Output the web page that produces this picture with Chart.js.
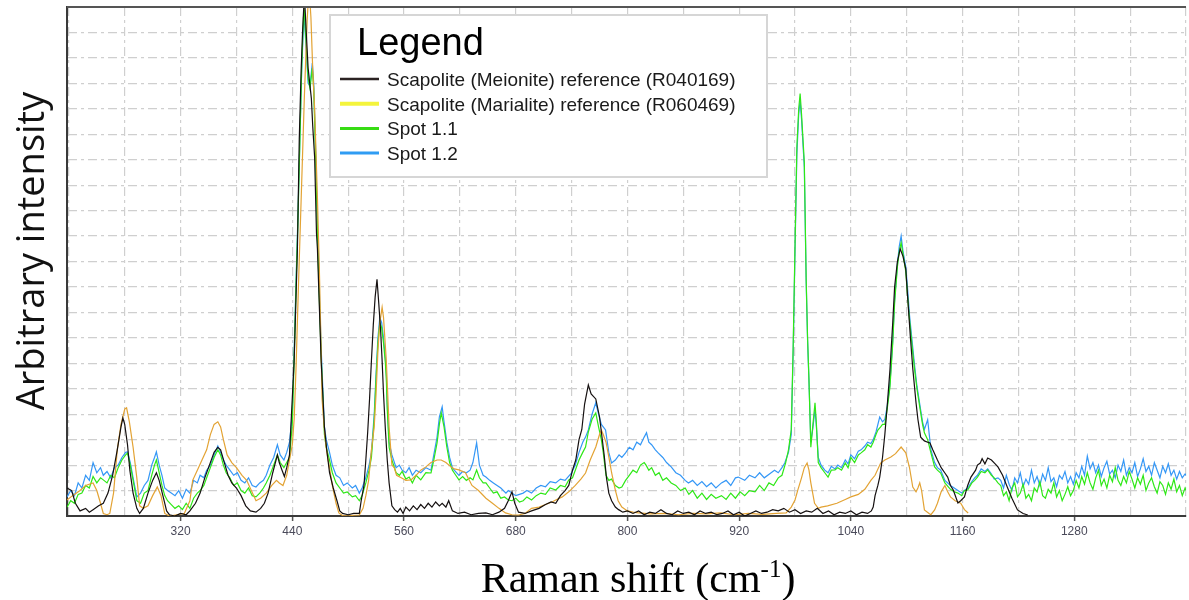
<!DOCTYPE html>
<html>
<head>
<meta charset="utf-8">
<script src="https://cdn.jsdelivr.net/npm/chart.js@4.4.1/dist/chart.umd.min.js"></script>
<style>
html,body{margin:0;padding:0;background:#fff;}
#wrap{width:1189px;height:600px;}
</style>
</head>
<body>
<div id="wrap"><canvas id="c" width="1189" height="600"></canvas></div>
<script>
// ---- data (Raman shift cm-1, arbitrary intensity) ----
const xGridValues = [200,260,320,380,440,500,560,620,680,740,800,860,920,980,1040,1100,1160,1220,1280,1340,1400];
const xTickLabels = [320,440,560,680,800,920,1040,1160,1280];
const seriesLabels = [
  'Scapolite (Meionite) reference (R040169)',
  'Scapolite (Marialite) reference (R060469)',
  'Spot 1.1',
  'Spot 1.2'
];

const meionite = [
[198,1.1],[203,1.0],[207,0.5],[212,0.2],[218,0.3],[222,0.15],[226,0.25],[232,0.4],[237,0.5],[242,0.9],[247,1.6],[252,2.6],[256,3.5],[258,3.85],[260,3.6],[263,2.8],[265.5,1.8],[269,0.9],[273,0.3],[276,0.1],[280,0.3],[285,0.9],[290,1.4],[294,1.7],[297,1.4],[301,0.8],[305,0.2],[308,0.05],[314,0.0],[320,0.1],[326,0.05],[330,0.2],[336,0.5],[341,0.9],[346,1.5],[351,2.0],[356,2.5],[360,2.7],[363,2.6],[367,2.1],[371,1.6],[375,1.3],[380,1.1],[385,0.8],[390,0.4],[395,0.2],[401,0.15],[406,0.3],[410,0.5],[414,0.9],[419,1.7],[424,2.4],[426,2.1],[429,1.8],[431.5,1.55],[434,1.9],[437,2.4],[439,3.9],[442,6.1],[445.5,10.5],[447.5,14.8],[449.5,17.5],[451,19.0],[453,20.5],[455,19.0],[457,17.6],[460.5,16.4],[462,15.3],[464,14.1],[466,11.1],[467,10.5],[469,8.3],[471,6.1],[474.5,3.5],[477,2.6],[480,1.7],[484,1.1],[488,0.6],[491,0.2],[494,0.1],[500,0.05],[506,0.1],[512,0.1],[514,0.6],[517,1.2],[519,2.2],[521,3.3],[523,4.6],[525,6.1],[527,7.5],[529,8.6],[531,9.3],[533,8.3],[535,7.2],[536.5,6.1],[538,4.8],[540,3.4],[542,2.2],[544,1.3],[547,0.4],[550,0.25],[553,0.15],[556,0.3],[559,0.1],[562,0.35],[566,0.2],[570,0.4],[574,0.25],[578,0.45],[582,0.3],[586,0.5],[590,0.35],[594,0.55],[598,0.4],[601,0.5],[605,0.35],[608,0.6],[612,0.2],[618,0.1],[625,0.15],[632,0.05],[640,0.1],[648,0.12],[655,0.05],[662,0.15],[668,0.3],[672,0.6],[676,0.95],[679,0.5],[683,0.15],[690,0.1],[697,0.2],[705,0.3],[712,0.45],[718,0.55],[723,0.5],[728,0.8],[733,1.0],[737,1.2],[741,1.8],[744.5,2.2],[748,3.0],[751,3.4],[754,4.4],[758,5.15],[761,4.8],[766,4.6],[770,3.9],[772,3.3],[775,2.4],[777.5,1.5],[780,0.9],[783,0.6],[787,0.35],[790.5,0.25],[795,0.15],[800,0.2],[806,0.1],[812,0.2],[818,0.05],[824,0.15],[830,0.1],[836,0.25],[842,0.1],[848,0.05],[854,0.2],[860,0.1],[866,0.15],[872,0.05],[878,0.2],[884,0.1],[890,0.15],[896,0.05],[902,0.1],[908,0.2],[914,0.05],[920,0.15],[926,0.0],[932,0.1],[938,0.2],[944,0.1],[950,0.15],[956,0.25],[962,0.2],[968,0.3],[974,0.15],[980,0.25],[986,0.1],[992,0.2],[998,0.15],[1004,0.3],[1010,0.1],[1016,0.2],[1022,0.05],[1028,0.15],[1034,0.1],[1040,0.2],[1046,0.05],[1052,0.15],[1058,0.1],[1062,0.2],[1064,0.35],[1066,0.8],[1069,1.2],[1071,1.53],[1074,2.3],[1076.5,3.2],[1079,4.3],[1082,5.74],[1085,7.6],[1087,9.0],[1090,10.0],[1093,10.5],[1096,10.2],[1099,9.7],[1101,8.6],[1104,7.0],[1106.5,5.8],[1110,4.45],[1112,3.8],[1115,3.1],[1119,2.95],[1122.5,2.9],[1125,2.87],[1128,2.6],[1133,2.2],[1137,1.9],[1141,1.69],[1144,1.53],[1147,1.2],[1150,1.02],[1155,0.51],[1158,0.6],[1162,0.75],[1165.5,1.2],[1169,1.53],[1174,1.8],[1176,2.0],[1179,2.08],[1181,2.25],[1184,2.05],[1187,2.28],[1191,2.2],[1195,2.05],[1198,1.93],[1203,1.6],[1208,1.14],[1213,0.7],[1219,0.24],[1225,0.1],[1230,0.04]
];

const marialite = [
[198,0.63],[204,0.8],[212,1.0],[218,1.2],[226,1.3],[230,1.0],[234,0.5],[237,0.1],[241,0.05],[244,0.1],[248,0.9],[252,2.6],[256,3.6],[260,4.2],[262,4.25],[265,3.7],[269,2.7],[273,1.5],[276,0.4],[280,0.3],[285,0.4],[290,0.8],[295,1.14],[299,0.8],[303,0.1],[308,0.0],[316,0.05],[324,0.1],[330,0.6],[333,1.4],[338,1.8],[343,2.2],[348,2.6],[352,3.2],[356,3.6],[360,3.7],[363,3.5],[366,3.0],[370,2.4],[375,2.1],[380,1.9],[386,1.6],[391,1.4],[396,1.0],[401,0.6],[406,0.7],[412,0.9],[418,1.2],[423,1.4],[426,1.3],[430,1.2],[434,1.6],[437,2.2],[440,2.8],[442,3.8],[444,5.8],[447,9.5],[450,13.0],[453,16.5],[456,19.5],[458,20.8],[460,19.6],[462,17.5],[464,16.0],[467,12.5],[469,9.8],[471,6.5],[472,4.6],[474,3.6],[476,2.8],[478,2.3],[480,1.9],[483,1.2],[487,0.5],[490,0.12],[494,0.02],[500,0.0],[506,0.03],[512,0.04],[516,0.3],[519,0.8],[522,1.4],[525,2.6],[528,3.5],[530,4.8],[532,6.5],[534,7.6],[536.5,8.2],[538,7.8],[541,6.1],[544,3.5],[547,2.0],[549.5,1.9],[552,1.6],[557,1.5],[562,1.4],[567.5,1.42],[573,1.6],[578,1.8],[583.5,1.93],[589,2.1],[595.5,2.2],[600,2.2],[605,2.1],[610.5,1.93],[614,1.85],[619,1.81],[626,1.7],[633,1.2],[640,1.0],[648,0.7],[655,0.5],[662,0.3],[669,0.12],[676,0.05],[683,0.04],[690,0.1],[697,0.3],[705,0.35],[712,0.45],[719,0.55],[723,0.63],[730,0.75],[737,0.95],[744,1.2],[750,1.45],[755,1.69],[760,2.2],[766,2.71],[770,3.2],[772,3.38],[774,3.2],[777,2.9],[780,2.32],[783,1.7],[787,1.02],[790,0.6],[794,0.35],[800,0.2],[806,0.15],[812,0.12],[825,0.08],[840,0.1],[855,0.05],[870,0.1],[885,0.08],[900,0.12],[915,0.05],[930,0.1],[945,0.06],[960,0.1],[970.5,0.12],[976,0.35],[980,0.63],[983,1.02],[987,1.5],[990,1.9],[993,2.08],[995,1.8],[997,1.3],[999,0.9],[1001,0.5],[1005,0.3],[1008,0.35],[1015,0.4],[1025,0.5],[1034,0.65],[1040,0.75],[1048,0.85],[1055,1.05],[1061.5,1.4],[1066,1.6],[1072,2.08],[1076.5,2.2],[1083,2.32],[1088,2.45],[1094,2.71],[1099,2.48],[1103,1.9],[1106.5,1.14],[1110,0.95],[1112,1.1],[1114,1.3],[1116,1.0],[1119,0.24],[1124,0.1],[1126,0.05],[1130,0.24],[1133,0.5],[1137,0.95],[1141,1.2],[1144,0.95],[1147,0.75],[1152,0.6],[1158,0.5],[1162,0.25],[1166,0.12]
];

const spot11 = [
[198,0.35],[202,0.6],[206,0.5],[210,0.85],[214,0.9],[218,1.2],[222,1.1],[226,1.55],[230,1.3],[234,1.5],[237,1.42],[241,1.3],[245,1.6],[249,1.5],[253,1.9],[257,2.2],[261,2.4],[263,2.47],[266,2.0],[269,1.4],[273,0.6],[277,0.5],[281,0.9],[285,1.0],[289,1.6],[292,2.0],[294,2.2],[297,1.7],[300,1.2],[303,0.8],[306,0.6],[310,0.45],[314,0.3],[318,0.4],[322,0.25],[326,0.5],[330,0.3],[334,0.7],[338,0.9],[341,1.0],[345,1.2],[348,1.5],[352,1.9],[356,2.3],[360,2.6],[363,2.4],[366,2.0],[369,1.7],[373,1.5],[377,1.2],[381,1.3],[385,1.0],[389,0.9],[393,1.1],[397,0.8],[401,0.75],[405,0.9],[409,1.1],[412,1.3],[416,1.6],[420,2.0],[424,2.4],[427,2.1],[431,1.9],[434,2.1],[437,2.3],[440,3.6],[442,6.2],[444,9.0],[446,11.5],[448,14.5],[450,17.5],[452,19.6],[453,19.8],[455,18.5],[457,17.2],[459,16.8],[461.5,17.6],[463,16.8],[465,14.2],[467,11.2],[469,8.6],[471,6.3],[474.5,3.2],[476.5,2.7],[480,2.2],[483,1.7],[487,1.3],[491,1.1],[495,0.9],[499,0.95],[504.5,0.75],[508,0.8],[512,0.6],[515,0.8],[519,1.3],[522.5,1.8],[525,2.3],[528,3.8],[530,5.4],[532,6.8],[534,7.6],[536,7.4],[538,6.8],[540,6.0],[541,5.4],[542,4.2],[544,2.7],[547,2.2],[551.5,1.7],[555,1.6],[558,1.75],[562,1.45],[565.5,1.53],[569,1.3],[573,1.6],[578,1.42],[583.5,1.7],[589,1.69],[592,2.2],[595.5,2.87],[598,3.6],[600,4.05],[603,3.5],[606,2.71],[609,2.1],[612,1.8],[614,1.69],[619,1.42],[623,1.55],[627,1.4],[631,1.5],[634,1.42],[638,1.81],[641,1.5],[645,1.3],[648,1.3],[652,1.1],[656,0.9],[660,0.95],[664,0.7],[668,0.75],[672,0.63],[676,0.6],[680,0.7],[684,0.55],[688,0.6],[692,0.75],[697,0.63],[702,0.8],[707,0.9],[712,0.85],[717,1.1],[723,1.02],[728,1.2],[733,1.15],[737,1.42],[741,1.5],[744,1.8],[748,2.2],[752,2.5],[755,2.71],[758,3.3],[762,3.8],[766,4.05],[769,3.5],[772,2.99],[774,2.5],[777,1.6],[780,1.4],[783,1.45],[787,1.2],[791,1.1],[794,1.14],[798,1.4],[802,1.6],[806,1.8],[810,1.7],[814,2.0],[818,2.1],[820,2.0],[823,1.8],[826,1.9],[830,1.6],[834,1.7],[838,1.4],[842,1.5],[847,1.3],[852,1.2],[857,1.0],[862,1.1],[866,0.85],[870,1.0],[875,0.7],[880,0.9],[885,0.65],[890,0.85],[895,0.7],[901,0.8],[906,0.65],[911,0.9],[916,0.7],[921,0.95],[926,0.8],[931,1.0],[937,0.95],[942,1.2],[947,1.0],[952,1.3],[957,1.2],[962,1.5],[966,1.6],[970,2.1],[973,2.6],[976,3.4],[978,6.6],[980,10.6],[982,14.5],[984,16.0],[985.5,16.6],[987,15.8],[990,13.9],[992,9.3],[993.5,7.0],[995,5.35],[997,2.7],[999,3.5],[1001.5,4.45],[1003,3.6],[1005,2.1],[1008,1.9],[1012,1.7],[1015.5,1.53],[1019,1.8],[1023,1.81],[1026,1.9],[1030,1.8],[1034,2.08],[1037,1.9],[1040,2.3],[1044,2.1],[1048,2.4],[1051,2.48],[1055,2.6],[1058,2.8],[1061.5,2.71],[1064,2.9],[1067,3.2],[1069,3.38],[1072,3.5],[1074,3.6],[1076.5,3.6],[1079,4.2],[1082,5.07],[1085,6.8],[1087,8.38],[1090,9.8],[1092,10.4],[1094,10.74],[1096,10.3],[1099,9.6],[1101,8.6],[1103,7.71],[1106,6.6],[1108.5,5.74],[1111,5.0],[1114,4.29],[1117,3.6],[1119,3.27],[1122.5,3.0],[1126,2.48],[1130,1.93],[1133,1.8],[1136.5,1.69],[1141,1.3],[1147,1.05],[1151,0.95],[1155,0.9],[1159,0.8],[1162,1.0],[1165.5,1.02],[1170,1.3],[1173,1.4],[1176,1.53],[1180,1.75],[1184,1.7],[1187,1.81],[1191,1.6],[1194,1.5],[1198,1.3],
[1201,1.2],[1204,0.8],[1207,0.95],[1210,0.6],[1213,1.1],[1216,1.3],[1219,0.75],[1222,0.9],[1225,1.25],[1228,0.7],[1231,0.85],[1234,0.6],[1237,1.1],[1240,0.95],[1243,1.35],[1246,0.8],[1249,0.7],[1252,1.05],[1255,0.9],[1258,1.3],[1261,0.75],[1264,1.0],[1267,0.6],[1270,0.85],[1273,1.15],[1276,0.8],[1279,1.0],[1282,1.4],[1285,1.1],[1288,1.55],[1291,1.25],[1294,1.7],[1297,1.3],[1300,1.05],[1303,1.5],[1306,1.8],[1309,1.2],[1312,1.45],[1315,1.1],[1318,1.6],[1321,1.35],[1324,1.9],[1327,1.4],[1330,1.2],[1333,1.55],[1336,1.3],[1339,1.75],[1342,1.45],[1345,1.1],[1348,1.5],[1351,1.25],[1354,1.6],[1357,1.0],[1360,1.3],[1363,1.5],[1366,1.15],[1369,0.9],[1372,1.35],[1375,1.2],[1378,0.85],[1381,1.3],[1384,1.05],[1387,1.45],[1390,0.95],[1393,1.2],[1396,0.8],[1399,1.1],[1400,1.0]
];

const spot12 = [
[198,0.75],[202,1.0],[206,0.8],[210,1.3],[214,1.1],[218,1.6],[222,1.4],[226,2.1],[230,1.7],[234,1.9],[237,1.6],[241,1.75],[245,1.5],[249,1.9],[253,2.0],[257,2.3],[261,2.5],[263,2.52],[266,2.1],[269,1.5],[273,0.75],[277,0.9],[281,1.2],[285,1.4],[289,2.0],[292,2.3],[294,2.52],[297,2.0],[300,1.6],[303,1.1],[306,1.0],[310,0.9],[314,0.8],[318,1.0],[322,0.7],[326,1.05],[330,0.9],[334,1.4],[338,1.3],[341,1.6],[345,1.5],[348,1.8],[352,2.0],[356,2.4],[360,2.75],[363,2.5],[366,2.2],[369,2.0],[373,1.8],[377,1.6],[381,1.7],[385,1.4],[389,1.3],[393,1.5],[397,1.2],[401,1.14],[405,1.3],[409,1.4],[412,1.6],[416,2.0],[420,2.3],[424,2.8],[427,2.4],[431,2.2],[434,2.5],[437,2.9],[440,4.0],[442,6.5],[444,9.2],[446,11.7],[448,14.6],[450,17.4],[452,19.3],[453,19.5],[455,18.3],[457,17.0],[459,16.9],[461.5,17.8],[463,17.0],[465,14.5],[467,11.5],[469,8.9],[471,6.6],[474.5,3.5],[476.5,3.0],[480,2.5],[483,2.0],[487,1.6],[491,1.5],[495,1.2],[499,1.3],[504.5,1.1],[508,1.2],[512,0.9],[515,1.1],[519,1.5],[522.5,2.0],[525,2.5],[528,4.0],[530,5.6],[532,7.0],[534,7.8],[536,7.6],[538,7.0],[540,6.2],[541,5.6],[542,4.4],[544,2.9],[547,2.4],[551.5,1.9],[555,2.0],[558,1.8],[562,1.7],[565.5,1.9],[569,1.6],[573,1.8],[578,1.7],[583.5,1.9],[589,1.8],[592,2.4],[595.5,3.1],[598,3.9],[601,4.29],[603,3.7],[606,2.9],[609,2.3],[612,1.9],[614,1.8],[619,1.6],[623,1.75],[627,1.7],[631,1.8],[634,2.1],[638,2.87],[641,2.0],[645,1.6],[648,1.53],[652,1.4],[656,1.3],[660,1.2],[664,1.1],[669.5,0.9],[672,1.0],[676,0.9],[680,0.8],[684,0.85],[688,0.9],[692,1.0],[697,0.9],[702,1.1],[707,1.2],[712,1.15],[717,1.35],[723,1.3],[728,1.45],[733,1.4],[740,1.69],[744,2.0],[748,2.5],[752,2.9],[755,3.1],[758,3.38],[762,4.0],[766,4.45],[769,4.0],[772,3.6],[776.5,3.38],[780,2.5],[783,2.08],[787,2.2],[791,2.4],[794,2.3],[798,2.48],[802,2.7],[806,2.6],[810,2.9],[814,2.8],[818,3.1],[820.5,3.27],[823,2.9],[826,2.8],[830,2.6],[833,2.48],[838,2.3],[842,2.1],[847,1.93],[852,1.7],[857,1.6],[862,1.4],[865.5,1.3],[870,1.4],[875,1.2],[880,1.35],[885,1.15],[890,1.3],[895,1.1],[901,1.3],[906,1.4],[911,1.2],[916,1.5],[919,1.53],[926,1.4],[931,1.6],[937,1.5],[942,1.7],[947,1.5],[954,1.69],[958,1.8],[962,1.7],[966,1.9],[969,2.08],[973,2.5],[976,3.2],[978,6.4],[980,10.4],[982,14.2],[984,15.8],[985.5,16.3],[987,15.6],[990,13.7],[992,9.2],[993.5,6.9],[995,5.3],[997,2.9],[999,3.4],[1001.5,4.2],[1003,3.5],[1005,2.3],[1008,2.0],[1012,1.8],[1015.5,1.7],[1019,1.95],[1023,1.85],[1026,2.0],[1030,1.9],[1034,2.2],[1037,2.05],[1040,2.4],[1044,2.25],[1048,2.55],[1051,2.6],[1055,2.75],[1058,2.9],[1061.5,2.85],[1064,3.0],[1067,3.3],[1071,3.89],[1074,3.7],[1076.5,3.8],[1079,4.3],[1082,5.2],[1085,6.9],[1087,8.5],[1090,9.9],[1092,10.6],[1094,11.0],[1096,10.4],[1099,9.8],[1101,8.9],[1103,7.9],[1106,6.8],[1108.5,5.9],[1111,5.1],[1114,4.4],[1117,3.7],[1119,3.4],[1122.5,3.78],[1126,2.6],[1130,2.1],[1133,1.9],[1136.5,1.8],[1141,1.4],[1147,1.2],[1151,1.1],[1155,1.0],[1159,0.9],[1162,1.0],[1165.5,1.1],[1170,1.35],[1173,1.5],[1176,1.6],[1180,1.85],[1184,1.75],[1187,1.85],[1191,1.65],[1194,1.45],[1198,1.5],
[1201,1.4],[1204,1.1],[1207,1.6],[1210,1.25],[1213,1.0],[1216,1.5],[1219,1.3],[1222,1.7],[1225,1.15],[1228,1.45],[1231,1.25],[1234,1.8],[1237,1.3],[1240,1.55],[1243,1.2],[1246,1.65],[1249,1.4],[1252,1.9],[1255,1.35],[1258,1.5],[1261,1.15],[1264,1.6],[1267,1.45],[1270,1.75],[1273,1.3],[1276,1.55],[1279,1.25],[1282,1.7],[1285,1.5],[1288,1.95],[1291,1.6],[1294,2.35],[1297,1.85],[1300,2.1],[1303,1.7],[1306,2.0],[1309,1.55],[1312,1.9],[1315,2.15],[1318,1.65],[1321,1.8],[1324,1.5],[1327,2.0],[1330,1.75],[1333,2.2],[1336,1.6],[1339,1.9],[1342,1.7],[1345,2.1],[1348,1.55],[1351,1.85],[1354,2.25],[1357,1.75],[1360,1.95],[1363,1.6],[1366,2.1],[1369,1.8],[1372,1.5],[1375,1.95],[1378,1.7],[1381,2.05],[1384,1.6],[1387,1.8],[1390,1.45],[1393,1.75],[1396,1.5],[1399,1.65],[1400,1.6]
];

// ---- chart ----
const toXY = arr => arr.map(p => ({x: p[0], y: p[1]}));
const lineColors = ['#151010', '#e3a334', '#2ee816', '#3497f6'];
const legendColors = ['#2b2222', '#f4f43c', '#37dc14', '#2f9cf3'];
const legendWidths = [2.5, 4, 3, 3];
const seriesData = [meionite, marialite, spot11, spot12];

const gridDash = [9, 4, 3, 4];

const decor = {
  id: 'decor',
  afterDatasetsDraw(chart) {
    const {ctx, chartArea: a} = chart;
    ctx.save();
    ctx.strokeStyle = '#555';
    ctx.lineWidth = 2;
    ctx.beginPath();
    ctx.moveTo(a.left, a.top);
    ctx.lineTo(a.right, a.top);
    ctx.stroke();
    ctx.restore();
  },
  afterDraw(chart) {
    const {ctx} = chart;
    ctx.save();
    // legend box
    ctx.fillStyle = '#ffffff';
    ctx.fillRect(330, 15, 437, 162);
    ctx.strokeStyle = '#d6d6d6';
    ctx.lineWidth = 2;
    ctx.strokeRect(330, 15, 437, 162);
    ctx.fillStyle = '#000';
    ctx.textBaseline = 'alphabetic';
    ctx.textAlign = 'left';
    ctx.font = '38px "Liberation Sans", Arial, sans-serif';
    ctx.fillText('Legend', 357, 55);
    chart.data.datasets.forEach((ds, i) => {
      const y = 79 + i * 24.7;
      ctx.strokeStyle = ds.legendColor;
      ctx.lineWidth = ds.legendWidth;
      ctx.beginPath();
      ctx.moveTo(340, y);
      ctx.lineTo(379, y);
      ctx.stroke();
      ctx.fillStyle = '#1a1a1a';
      ctx.font = '19px "Liberation Sans", Arial, sans-serif';
      ctx.fillText(ds.label, 387, y + 7);
    });
    // y axis title
    ctx.save();
    ctx.translate(44, 251);
    ctx.rotate(-Math.PI / 2);
    ctx.textAlign = 'center';
    ctx.fillStyle = '#111';
    ctx.font = '38px "Open Sans", sans-serif';
    ctx.fillText('Arbitrary intensity', 0, 0);
    ctx.restore();
    // x axis title with superscript
    const mainFont = '42px "Liberation Serif", "Times New Roman", serif';
    const supFont = '25px "Liberation Serif", "Times New Roman", serif';
    const p1 = 'Raman shift (cm', p2 = '-1', p3 = ')';
    ctx.font = mainFont; const w1 = ctx.measureText(p1).width; const w3 = ctx.measureText(p3).width;
    ctx.font = supFont; const w2 = ctx.measureText(p2).width;
    let x0 = 638 - (w1 + w2 + w3) / 2;
    const base = 592;
    ctx.fillStyle = '#000';
    ctx.textAlign = 'left';
    ctx.font = mainFont; ctx.fillText(p1, x0, base);
    ctx.font = supFont; ctx.fillText(p2, x0 + w1, base - 15);
    ctx.font = mainFont; ctx.fillText(p3, x0 + w1 + w2, base);
    ctx.restore();
  }
};

new Chart(document.getElementById('c'), {
  type: 'line',
  data: {
    datasets: seriesData.map((d, i) => ({
      label: seriesLabels[i],
      data: toXY(d),
      borderColor: lineColors[i],
      backgroundColor: lineColors[i],
      borderWidth: 1.2,
      pointRadius: 0,
      tension: 0,
      fill: false,
      legendColor: legendColors[i],
      legendWidth: legendWidths[i]
    }))
  },
  options: {
    responsive: false,
    animation: false,
    devicePixelRatio: 1,
    layout: {padding: {top: 7, left: 0, right: 0, bottom: 0}},
    plugins: {legend: {display: false}, tooltip: {enabled: false}},
    scales: {
      x: {
        type: 'linear',
        min: 198,
        max: 1400,
        afterBuildTicks: s => { s.ticks = xGridValues.map(v => ({value: v})); },
        afterFit: s => { s.height = 84; },
        ticks: {
          autoSkip: false,
          maxRotation: 0,
          padding: 3,
          color: '#4a4a5a',
          font: {family: '"Liberation Sans", Arial, sans-serif', size: 12},
          callback: v => xTickLabels.includes(v) ? String(v) : ''
        },
        grid: {
          color: '#cfcfcf',
          lineWidth: 1.2,
          tickLength: 5,
          tickWidth: 1.5,
          tickColor: c => (c.tick && xTickLabels.includes(c.tick.value)) ? '#555' : 'rgba(0,0,0,0)'
        },
        border: {display: true, color: '#3a3a3a', width: 2, dash: gridDash}
      },
      y: {
        min: 0,
        max: 20,
        afterFit: s => { s.width = 67; },
        ticks: {display: false, stepSize: 1},
        grid: {color: '#cfcfcf', lineWidth: 1.2, drawTicks: false},
        border: {display: true, color: '#3a3a3a', width: 2, dash: gridDash}
      }
    }
  },
  plugins: [decor]
});
</script>
</body>
</html>
